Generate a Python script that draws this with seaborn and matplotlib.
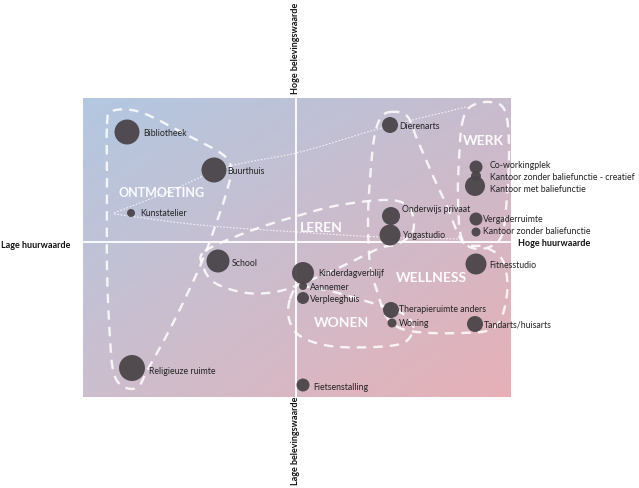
import numpy as np
import pandas as pd
import matplotlib.pyplot as plt
import seaborn as sns

# functies met huurwaarde (x) en belevingswaarde (y), grootte = omvang bol
functies = ["Bibliotheek", "Buurthuis", "Kunstatelier", "Dierenarts", "Co-workingplek",
            "Kantoor zonder baliefunctie - creatief", "Kantoor met baliefunctie",
            "Onderwijs privaat", "Yogastudio", "Vergaderruimte", "Kantoor zonder baliefunctie",
            "School", "Kinderdagverblijf", "Aannemer", "Verpleeghuis", "Fitnesstudio",
            "Therapieruimte anders", "Woning", "Tandarts/huisarts", "Religieuze ruimte",
            "Fietsenstalling"]
huurwaarde = [-16.9, -8.2, -16.5, 9.4, 18.0, 18.0, 17.9, 9.5, 9.4, 18.0, 18.0,
              -7.8, 0.7, 0.7, 0.7, 18.0, 9.5, 9.6, 17.9, -16.4, 0.7]
beleving = [11.0, 7.2, 2.9, 11.7, 7.5, 6.6, 5.6, 2.6, 0.7, 2.3, 1.0,
            -1.9, -3.1, -4.4, -5.6, -2.2, -6.8, -8.1, -8.2, -12.6, -14.3]
grootte = [12.5, 12.5, 4, 8, 6.5, 5, 10, 9, 10.5, 6.5, 4.5,
           11.5, 11, 4, 6, 10.5, 8, 4.5, 8, 13, 6.5]

# label offsets (pixels)
offsets = {"Bibliotheek": (16, 0), "Buurthuis": (13, 0), "Kunstatelier": (9, 0),
           "Dierenarts": (9, 0), "Co-workingplek": (14, 2),
           "Kantoor zonder baliefunctie - creatief": (14, 0),
           "Kantoor met baliefunctie": (15, -2), "Onderwijs privaat": (11, 7),
           "Yogastudio": (12, 0), "Vergaderruimte": (7, 0),
           "Kantoor zonder baliefunctie": (7, 2), "School": (14, -1),
           "Kinderdagverblijf": (15, 0), "Aannemer": (7, 0), "Verpleeghuis": (7, -1),
           "Fitnesstudio": (13, 0), "Therapieruimte anders": (8, 1), "Woning": (7, 0),
           "Tandarts/huisarts": (9, 0), "Religieuze ruimte": (17, -3),
           "Fietsenstalling": (10, -1)}

groepen = ["ONTMOETING", "LEREN", "WERK", "WELLNESS", "WONEN"]
groep_x = [-13.4, 2.5, 18.7, 13.5, 4.6]
groep_y = [5.0, 1.5, 10.2, -3.5, -8.0]
groep_fs = [9.0, 10, 10, 10, 10]

# contouren van de groepen
ontmoeting = [(-18.9, 11.8), (-18.4, 13.1), (-15.6, 13.0), (-11.1, 10.8), (-7.4, 8.8),
              (-6.5, 7.3), (-7.0, 4.8), (-8.0, 1.8), (-9.1, -1.2), (-10.4, -4.2),
              (-12.6, -8.7), (-14.8, -12.7), (-15.8, -14.5), (-17.2, -14.5),
              (-18.2, -13.2), (-18.6, -9.7), (-18.9, -2.7), (-18.9, 5.3)]
leren = [(-9.1, -0.9), (-4.6, 1.1), (0.1, 2.6), (4.4, 3.7), (9.4, 4.2), (11.4, 3.3),
         (11.7, 1.1), (10.2, -0.2), (8.4, -0.6), (5.1, -2.2), (1.7, -3.7), (-1.6, -4.9),
         (-4.9, -5.1), (-8.1, -4.1), (-9.3, -2.4)]
wellness = [(9.4, 13.0), (11.1, 12.6), (12.1, 10.3), (13.7, 6.6), (15.1, 3.6), (16.7, 0.0),
            (18.9, -0.5), (20.7, -1.9), (21.1, -5.2), (19.9, -8.5), (16.4, -9.1),
            (11.4, -8.9), (9.2, -7.7), (8.2, -5.2), (7.4, -2.2), (7.2, 2.3), (7.4, 6.3),
            (7.8, 10.3), (8.4, 12.3)]
werk = [(16.6, 11.8), (17.4, 13.5), (19.4, 14.0), (20.9, 13.1), (21.3, 9.3), (21.0, 3.3),
        (20.4, 0.3), (18.4, -0.7), (16.6, 0.3), (16.2, 4.3), (16.3, 8.3)]
wonen = [(-0.6, -5.7), (0.4, -4.5), (3.4, -4.9), (6.9, -5.9), (10.2, -6.9), (11.7, -8.3),
         (10.9, -10.0), (7.9, -10.5), (3.4, -10.4), (0.4, -9.4), (-0.7, -7.7)]
dun_boven = [(-18.2, 2.9), (-12.6, 5.1), (-6.9, 7.5), (0.4, 9.0), (8.9, 11.5), (17.0, 13.5)]
dun_onder = [(-18.2, 2.8), (-9.6, 1.7), (0.1, 1.0), (8.4, 0.5), (16.4, 0.3)]


def spline(pts, closed=True, n=24):
    P = np.array(pts, dtype=float)
    if not closed:
        P = np.vstack([2 * P[0] - P[1], P, 2 * P[-1] - P[-2]])
    N = len(P)
    rng = range(N) if closed else range(1, N - 2)
    out = []
    t = np.linspace(0, 1, n, endpoint=False)[:, None]
    for i in rng:
        p0, p1, p2, p3 = P[i - 1], P[i], P[(i + 1) % N], P[(i + 2) % N]
        out.append(0.5 * (2 * p1 + (-p0 + p2) * t + (2 * p0 - 5 * p1 + 4 * p2 - p3) * t ** 2
                          + (-p0 + 3 * p1 - 3 * p2 + p3) * t ** 3))
    out = np.vstack(out)
    if closed:
        out = np.vstack([out, out[:1]])
    else:
        out = np.vstack([out, P[-2]])
    return out


sns.set_style("white")
plt.rcParams['font.family'] = ['Lato', 'DejaVu Sans']

df = pd.DataFrame({"functie": functies, "huur": huurwaarde, "beleving": beleving,
                   "omvang": np.array(grootte) ** 2})

fig = plt.figure(figsize=(6.39, 4.89), dpi=100)
ax = fig.add_axes([83 / 639, 91 / 489, 428 / 639, 299 / 489])
xlim = (-21.3, 21.5)
ylim = (-15.5, 14.4)

# achtergrond verloop
tl = np.array([178, 200, 225]) / 255
tr = np.array([200, 188, 206]) / 255
bl = np.array([204, 190, 206]) / 255
br = np.array([231, 176, 182]) / 255
u = np.linspace(0, 1, 300)[None, :, None]
v = np.linspace(0, 1, 200)[:, None, None]
grad = (1 - v) * ((1 - u) * tl + u * tr) + v * ((1 - u) * bl + u * br)
ax.imshow(grad, extent=(xlim[0], xlim[1], ylim[0], ylim[1]), aspect='auto',
          origin='upper', zorder=0, interpolation='bilinear')

ax.axvline(0, color='white', lw=1.3, zorder=1)
ax.axhline(0, color='white', lw=1.3, zorder=1)

for shape in [ontmoeting, leren, wellness, werk, wonen]:
    c = spline(shape)
    ax.plot(c[:, 0], c[:, 1], color='white', lw=1.7, ls=(0, (4, 3)), alpha=0.85, zorder=2)
for line in [dun_boven, dun_onder]:
    c = spline(line, closed=False)
    ax.plot(c[:, 0], c[:, 1], color='white', lw=0.8, ls=(0, (1.5, 1.5)), alpha=0.8, zorder=2)

sns.scatterplot(data=df, x="huur", y="beleving", size="omvang",
                sizes=(2.07 * 16, 2.07 * 169), size_norm=(16, 169),
                color='#4a4549', linewidth=0, alpha=0.95, legend=False, ax=ax, zorder=3)

for _, r in df.iterrows():
    dx, dy = offsets[r.functie]
    ax.annotate(r.functie, (r.huur, r.beleving), xytext=(dx, dy), textcoords='offset pixels',
                ha='left', va='center', fontsize=6.3, color='#222222', zorder=4)

for g, gx, gy, fs in zip(groepen, groep_x, groep_y, groep_fs):
    ax.text(gx, gy, g, ha='center', va='center', fontsize=fs, fontweight='bold',
            color='white', alpha=0.95, zorder=4)

ax.set_xlim(*xlim)
ax.set_ylim(*ylim)
ax.set_xticks([])
ax.set_yticks([])
ax.set_xlabel("")
ax.set_ylabel("")
for s in ax.spines.values():
    s.set_visible(False)

fig.text(0.002, 1 - 245 / 489, "Lage huurwaarde", ha='left', va='center',
         fontsize=6.5, fontweight='bold', color='#111111')
fig.text(518 / 639, 1 - 244 / 489, "Hoge huurwaarde", ha='left', va='center',
         fontsize=6.5, fontweight='bold', color='#111111')
fig.text(295 / 639, 1 - 48 / 489, "Hoge belevingswaarde", ha='center', va='center',
         rotation=90, fontsize=6.5, fontweight='bold', color='#111111')
fig.text(295 / 639, 1 - 441 / 489, "Lage belevingswaarde", ha='center', va='center',
         rotation=90, fontsize=6.5, fontweight='bold', color='#111111')

fig.savefig("out.png", dpi=100, facecolor='white')
